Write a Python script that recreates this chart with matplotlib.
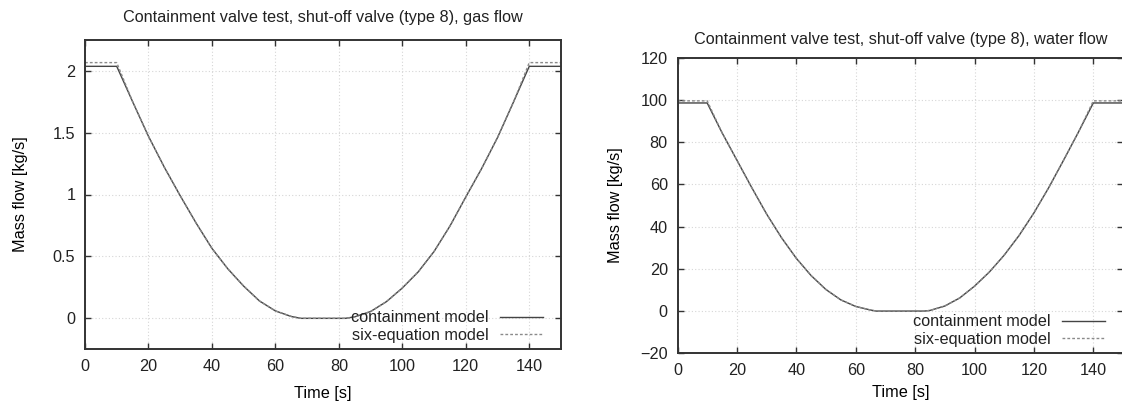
import numpy as np
import matplotlib
matplotlib.use('Agg')
import matplotlib.pyplot as plt

plt.rcParams['font.family'] = ['Liberation Sans', 'DejaVu Sans']
plt.rcParams['font.size'] = 11.7
plt.rcParams['text.color'] = '#222222'

# tempi (s)
t_gas = [0, 10, 15, 20, 25, 30, 35, 40, 45, 50, 55, 60, 65, 68,
         82, 85, 90, 95, 100, 105, 110, 115, 120, 125, 130, 135, 140, 150]
# portata gas [kg/s]
gas_cont = [2.035, 2.035, 1.75, 1.47, 1.22, 0.99, 0.77, 0.565, 0.40, 0.26, 0.14, 0.06, 0.015, 0.0,
            0.0, 0.012, 0.055, 0.135, 0.245, 0.375, 0.54, 0.745, 0.98, 1.21, 1.46, 1.745, 2.035, 2.035]
gas_six = [2.065, 2.065, 1.75, 1.47, 1.22, 0.99, 0.77, 0.565, 0.40, 0.26, 0.14, 0.06, 0.015, 0.0,
           0.0, 0.012, 0.055, 0.135, 0.245, 0.375, 0.54, 0.745, 0.98, 1.21, 1.46, 1.745, 2.065, 2.065]

t_wat = [0, 10, 15, 20, 25, 30, 35, 40, 45, 50, 55, 60, 65, 67,
         83, 85, 90, 95, 100, 105, 110, 115, 120, 125, 130, 135, 140, 150]
# portata acqua [kg/s]
wat_cont = [98.6, 98.6, 84.5, 71.5, 58.5, 46.0, 34.8, 25.0, 16.8, 10.2, 5.3, 2.2, 0.5, 0.0,
            0.0, 0.3, 2.4, 6.2, 11.8, 18.5, 26.5, 35.8, 46.5, 58.5, 71.5, 84.8, 98.6, 98.6]
wat_six = [99.6, 99.6, 84.5, 71.5, 58.5, 46.0, 34.8, 25.0, 16.8, 10.2, 5.3, 2.2, 0.5, 0.0,
           0.0, 0.3, 2.4, 6.2, 11.8, 18.5, 26.5, 35.8, 46.5, 58.5, 71.5, 84.8, 99.6, 99.6]

titles = ['Containment valve test, shut-off valve (type 8), gas flow',
          'Containment valve test, shut-off valve (type 8), water flow']
labels = ['containment model', 'six-equation model']

W, H = 1122, 403
fig = plt.figure(figsize=(W/100, H/100), dpi=100)
fig.patch.set_facecolor('white')

def box(x0, x1, ytop, ybot):
    return [x0/W, (H-ybot)/H, (x1-x0)/W, (ybot-ytop)/H]

ax1 = fig.add_axes(box(85, 561, 39.7, 349.3))
ax2 = fig.add_axes(box(677.5, 1123, 57.8, 353.3))


def style(ax, ylim, yticks, title, tpad, ylpad, xlpad):
    ax.set_xlim(0, 150)
    ax.set_ylim(*ylim)
    ax.set_xticks(range(0, 141, 20))
    ax.set_yticks(yticks)
    ax.grid(True, color='#d6d6d6', linestyle=(0, (1, 2)), linewidth=0.8)
    ax.set_axisbelow(True)
    for s in ax.spines.values():
        s.set_linewidth(1.4)
        s.set_color('#333333')
    ax.tick_params(direction='in', top=True, right=True, length=4.5, width=1,
                   color='#333333', labelcolor='#222222', pad=7)
    ax.set_title(title, pad=tpad, fontsize=11.7)
    ax.set_xlabel('Time [s]', labelpad=xlpad)
    ax.set_ylabel('Mass flow [kg/s]', labelpad=ylpad)


style(ax1, (-0.25, 2.25), [0, 0.5, 1, 1.5, 2], titles[0], 12.5, 18, 8.5)
ax1.set_yticklabels(['0', '0.5', '1', '1.5', '2'])
style(ax2, (-20, 120), range(-20, 121, 20), titles[1], 10, 12, 5)

for ax, t, yc, ys, w in [(ax1, t_gas, gas_cont, gas_six, 476), (ax2, t_wat, wat_cont, wat_six, 445.5)]:
    ax.plot(t, yc, color='#444444', linewidth=1.0, label=labels[0])
    ax.plot(t, ys, color='#8a8a8a', linewidth=1.0, linestyle=(0, (2, 1.5)), label=labels[1])
    ax.legend(loc='lower right', frameon=False, markerfirst=False, handlelength=2.6,
              handletextpad=0.7, labelspacing=0.15, borderaxespad=0.0,
              bbox_to_anchor=(1 - 12/w, 0.0))

plt.savefig('out.png', dpi=100)
